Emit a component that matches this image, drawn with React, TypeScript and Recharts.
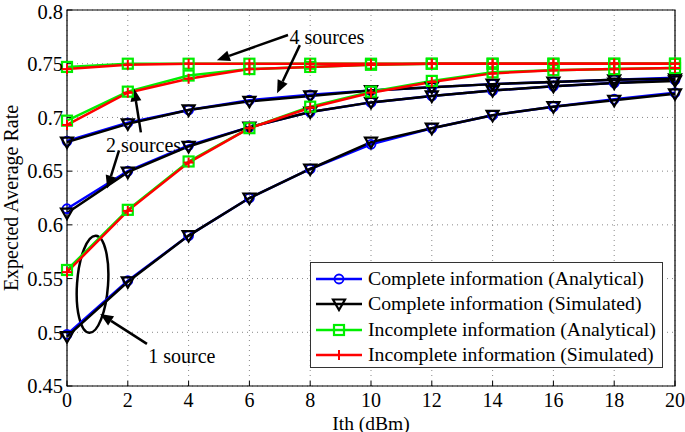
import React from 'react';
import {
  LineChart, Line, XAxis, YAxis, CartesianGrid, Legend,
  ReferenceLine, ReferenceDot, ReferenceArea,
} from 'recharts';

const ith = [0, 2, 4, 6, 8, 10, 12, 14, 16, 18, 20];
const xTicks = [0, 2, 4, 6, 8, 10, 12, 14, 16, 18, 20];
const yTicks = [0.45, 0.5, 0.55, 0.6, 0.65, 0.7, 0.75, 0.8];

// 1 source
const completeAnalytical1 = [0.498, 0.548, 0.590, 0.625, 0.652, 0.675, 0.690, 0.702, 0.710, 0.717, 0.723];
const completeSimulated1 = [0.496, 0.547, 0.590, 0.625, 0.652, 0.677, 0.690, 0.702, 0.710, 0.716, 0.722];
const incompleteAnalytical1 = [0.558, 0.614, 0.659, 0.690, 0.710, 0.724, 0.734, 0.742, 0.744, 0.745, 0.746];
const incompleteSimulated1 = [0.556, 0.613, 0.658, 0.690, 0.709, 0.723, 0.733, 0.741, 0.744, 0.745, 0.746];
// 2 sources
const completeAnalytical2 = [0.615, 0.650, 0.674, 0.691, 0.705, 0.714, 0.720, 0.725, 0.729, 0.732, 0.735];
const completeSimulated2 = [0.611, 0.649, 0.673, 0.691, 0.705, 0.714, 0.720, 0.725, 0.729, 0.732, 0.734];
const incompleteAnalytical2 = [0.697, 0.724, 0.739, 0.745, 0.747, 0.749, 0.750, 0.750, 0.750, 0.750, 0.750];
const incompleteSimulated2 = [0.693, 0.723, 0.736, 0.745, 0.747, 0.749, 0.750, 0.750, 0.750, 0.750, 0.750];
// 4 sources
const completeAnalytical4 = [0.678, 0.695, 0.707, 0.716, 0.721, 0.725, 0.728, 0.731, 0.733, 0.735, 0.737];
const completeSimulated4 = [0.677, 0.694, 0.707, 0.715, 0.720, 0.725, 0.728, 0.731, 0.733, 0.735, 0.736];
const incompleteAnalytical4 = [0.747, 0.750, 0.750, 0.750, 0.750, 0.750, 0.750, 0.750, 0.750, 0.750, 0.750];
const incompleteSimulated4 = [0.745, 0.749, 0.750, 0.750, 0.750, 0.750, 0.750, 0.750, 0.750, 0.750, 0.750];

const legendNames = [
  'Complete information (Analytical)',
  'Complete information (Simulated)',
  'Incomplete information (Analytical)',
  'Incomplete information (Simulated)',
];

const data = ith.map((x, i) => ({
  ith: x,
  ca1: completeAnalytical1[i], cs1: completeSimulated1[i], ia1: incompleteAnalytical1[i], is1: incompleteSimulated1[i],
  ca2: completeAnalytical2[i], cs2: completeSimulated2[i], ia2: incompleteAnalytical2[i], is2: incompleteSimulated2[i],
  ca4: completeAnalytical4[i], cs4: completeSimulated4[i], ia4: incompleteAnalytical4[i], is4: incompleteSimulated4[i],
}));

const FONT = '"Liberation Serif", "Times New Roman", serif';
const BLUE = '#0000ff';
const BLACK = '#000000';
const GREEN = '#00ee00';
const RED = '#ff0000';

type Kind = 'circle' | 'tri' | 'square' | 'plus';

const markerEl = (kind: Kind, cx: number, cy: number, color: string, key?: string) => {
  if (kind === 'circle') return <circle key={key} cx={cx} cy={cy} r={4.5} fill="none" stroke={color} strokeWidth={1.8} />;
  if (kind === 'tri') return <path key={key} d={`M${cx - 6},${cy - 4.5} L${cx + 6},${cy - 4.5} L${cx},${cy + 6} Z`} fill="none" stroke={color} strokeWidth={2.2} />;
  if (kind === 'square') return <rect key={key} x={cx - 5} y={cy - 5} width={10} height={10} fill="none" stroke={color} strokeWidth={2.2} />;
  return (
    <g key={key}>
      <line x1={cx - 5} y1={cy} x2={cx + 5} y2={cy} stroke={color} strokeWidth={2} />
      <line x1={cx} y1={cy - 5} x2={cx} y2={cy + 5} stroke={color} strokeWidth={2} />
    </g>
  );
};

const makeDot = (kind: Kind, color: string) => (p: any) => markerEl(kind, p.cx, p.cy, color, `${kind}-${p.index}`);

const seriesDefs: { key: string; color: string; kind: Kind }[] = [
  { key: 'ca1', color: BLUE, kind: 'circle' }, { key: 'ca2', color: BLUE, kind: 'circle' }, { key: 'ca4', color: BLUE, kind: 'circle' },
  { key: 'cs1', color: BLACK, kind: 'tri' }, { key: 'cs2', color: BLACK, kind: 'tri' }, { key: 'cs4', color: BLACK, kind: 'tri' },
  { key: 'ia1', color: GREEN, kind: 'square' }, { key: 'ia2', color: GREEN, kind: 'square' }, { key: 'ia4', color: GREEN, kind: 'square' },
  { key: 'is1', color: RED, kind: 'plus' }, { key: 'is2', color: RED, kind: 'plus' }, { key: 'is4', color: RED, kind: 'plus' },
];

const Arrow = (p: any) => {
  const { x1, y1, x2, y2 } = p;
  const dx = x2 - x1, dy = y2 - y1;
  const len = Math.sqrt(dx * dx + dy * dy) || 1;
  const ux = dx / len, uy = dy / len;
  const hl = 13, hw = 5.5;
  const bx = x2 - ux * hl, by = y2 - uy * hl;
  const pts = `${x2},${y2} ${bx - uy * hw},${by + ux * hw} ${bx + uy * hw},${by - ux * hw}`;
  return (
    <g>
      <line x1={x1} y1={y1} x2={bx} y2={by} stroke="#000" strokeWidth={2.5} />
      <polygon points={pts} fill="#000" />
    </g>
  );
};

const makeText = (t: string) => (p: any) => (
  <text x={p.cx} y={p.cy} textAnchor="middle" dominantBaseline="central" fontFamily={FONT} fontSize={20} fill="#000">{t}</text>
);

const EllipseShape = (p: any) => {
  const cx = p.x + p.width / 2;
  const cy = p.y + p.height / 2;
  return (
    <ellipse cx={cx} cy={cy} rx={p.width / 2} ry={p.height / 2} transform={`rotate(4 ${cx} ${cy})`} fill="none" stroke="#000" strokeWidth={2.5} />
  );
};

const legendKinds: { kind: Kind; color: string }[] = [
  { kind: 'circle', color: BLUE }, { kind: 'tri', color: BLACK }, { kind: 'square', color: GREEN }, { kind: 'plus', color: RED },
];

const LegendBox = () => (
  <div style={{ border: '1px solid #333', background: '#fff', padding: '3px 4px', boxSizing: 'border-box', width: 353, height: 106 }}>
    {legendNames.map((n, i) => (
      <div key={n} style={{ display: 'flex', alignItems: 'center', height: 25.5 }}>
        <svg width={48} height={16} style={{ marginRight: 5 }}>
          <line x1={1} y1={8} x2={47} y2={8} stroke={legendKinds[i].color} strokeWidth={2.5} />
          {markerEl(legendKinds[i].kind, 24, 8, legendKinds[i].color)}
        </svg>
        <span style={{ fontFamily: FONT, fontSize: 19.8, color: '#000', whiteSpace: 'nowrap', lineHeight: 1 }}>{n}</span>
      </div>
    ))}
  </div>
);

export default function App() {
  return (
    <div style={{ position: 'absolute', left: 0, top: 0, width: 685, height: 432, background: '#fff' }}>
      <LineChart width={685} height={432} data={data} margin={{ top: 10, right: 10, left: 0, bottom: 0 }}>
        <CartesianGrid stroke="#888" strokeDasharray="1 4" />
        <XAxis
          dataKey="ith" type="number" domain={[0, 20]} ticks={xTicks} height={46}
          tickSize={-5} tickMargin={12} axisLine={false} tickLine={{ stroke: '#000' }}
          tick={{ fontFamily: FONT, fontSize: 20, fill: '#000' }}
          label={{
            content: (lp: any) => (
              <text x={lp.viewBox.x + lp.viewBox.width / 2} y={lp.viewBox.y + 37} textAnchor="middle" dominantBaseline="central" fontFamily={FONT} fontSize={19.5} fill="#000">Ith (dBm)</text>
            ),
          }}
        />
        <XAxis
          xAxisId="top" orientation="top" dataKey="ith" type="number" domain={[0, 20]} ticks={xTicks} height={0}
          tickSize={-5} tickMargin={0} axisLine={false} tickLine={{ stroke: '#000' }} tickFormatter={() => ''}
        />
        <YAxis
          type="number" domain={[0.45, 0.8]} ticks={yTicks} width={67}
          tickSize={-5} tickMargin={9} axisLine={false} tickLine={{ stroke: '#000' }}
          tick={{ fontFamily: FONT, fontSize: 20.5, fill: '#000' }}
          label={{
            content: (lp: any) => {
              const cx = lp.viewBox.x + 11;
              const cy = lp.viewBox.y + lp.viewBox.height / 2;
              return (
                <text x={cx} y={cy} transform={`rotate(-90 ${cx} ${cy})`} textAnchor="middle" dominantBaseline="central" fontFamily={FONT} fontSize={20} fill="#000">Expected Average Rate</text>
              );
            },
          }}
        />
        <YAxis
          yAxisId="right" orientation="right" type="number" domain={[0.45, 0.8]} ticks={yTicks} width={0}
          tickSize={-5} tickMargin={0} axisLine={false} tickLine={{ stroke: '#000' }} tickFormatter={() => ''}
        />
        <ReferenceArea x1={0} x2={20} y1={0.45} y2={0.8} fill="none" stroke="#000" strokeWidth={1.2} />
        {seriesDefs.map((s) => (
          <Line
            key={s.key} dataKey={s.key} type="linear" stroke={s.color} strokeWidth={2.5}
            dot={makeDot(s.kind, s.color)} activeDot={false} isAnimationActive={false} legendType="none"
          />
        ))}
        <ReferenceArea x1={0.33} x2={1.35} y1={0.4994} y2={0.59} shape={EllipseShape} />
        <ReferenceLine segment={[{ x: 7.27, y: 0.7767 }, { x: 4.93, y: 0.7533 }]} shape={Arrow} />
        <ReferenceLine segment={[{ x: 7.66, y: 0.7673 }, { x: 6.91, y: 0.7225 }]} shape={Arrow} />
        <ReferenceLine segment={[{ x: 2.43, y: 0.6861 }, { x: 2.2, y: 0.7272 }]} shape={Arrow} />
        <ReferenceLine segment={[{ x: 1.71, y: 0.6693 }, { x: 1.32, y: 0.6339 }]} shape={Arrow} />
        <ReferenceLine segment={[{ x: 2.63, y: 0.4892 }, { x: 1.09, y: 0.5171 }]} shape={Arrow} />
        <ReferenceDot x={8.55} y={0.775} r={0} shape={makeText('4 sources')} />
        <ReferenceDot x={2.52} y={0.674} r={0} shape={makeText('2 sources')} />
        <ReferenceDot x={3.78} y={0.478} r={0} shape={makeText('1 source')} />
        <Legend
          layout="horizontal" verticalAlign="middle" align="center"
          wrapperStyle={{ position: 'absolute', left: 310, top: 262, width: 353, height: 106 }}
          content={() => <LegendBox />}
        />
      </LineChart>
    </div>
  );
}
